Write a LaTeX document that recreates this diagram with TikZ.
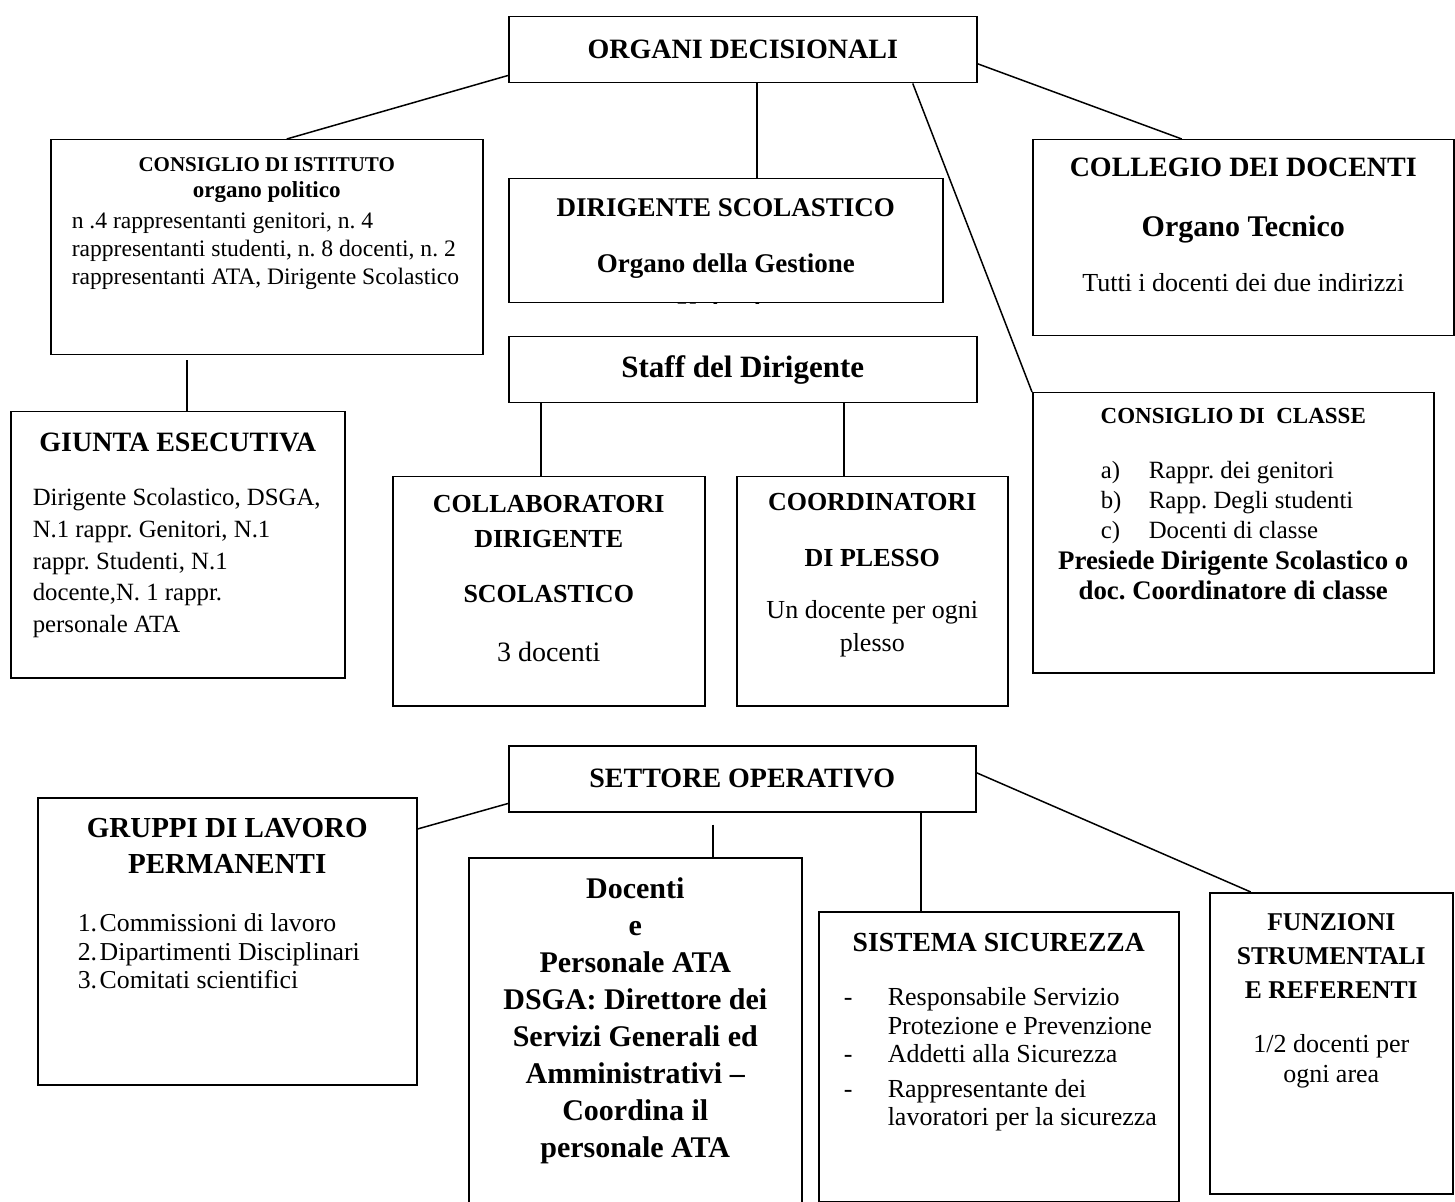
\documentclass[tikz,border=0pt]{standalone}
\usepackage{fontspec}
\setmainfont{Liberation Serif}
\usetikzlibrary{positioning}

\begin{document}
\frenchspacing
\begin{tikzpicture}[x=0.5pt,y=-0.5pt,line width=0.75pt]
        \tikzstyle{box}=[draw,anchor=north west,inner sep=0pt]
        \tikzstyle{title}=[align=center,inner sep=0pt,font=\bfseries\fontsize{14}{17}\selectfont]
        \tikzstyle{list}=[align=left,inner sep=0pt,font=\fontsize{12.5}{14.25}\selectfont]

        \useasboundingbox (0,0) rectangle (1455,1202);

        \draw (508,16) node[box,title,minimum width=234pt,minimum height=33pt] (od) {ORGANI DECISIONALI};

        \draw (50,139) node[box,minimum width=216pt,minimum height=107.5pt] (ci) {};
        \node[title,font=\bfseries\fontsize{10.5}{13}\selectfont,below=9pt of ci.north] (ci-t) {CONSIGLIO DI ISTITUTO\\ {\fontsize{11.5}{13}\selectfont organo politico}};
        \node[list,font=\fontsize{11.8}{14}\selectfont,below right=36.5pt and 10.5pt of ci.north west] (ci-b) {n .4 rappresentanti genitori, n. 4\\ rappresentanti studenti, n. 8 docenti, n. 2\\ rappresentanti ATA, Dirigente Scolastico};

        \draw (508,178) node[box,minimum width=217pt,minimum height=62pt] (ds) {};
        \begin{scope}
            \clip (ds.north west) rectangle (ds.south east);
            \node[title,font=\bfseries\fontsize{13.5}{16}\selectfont,below=10pt of ds.north] (ds-t) {DIRIGENTE SCOLASTICO\\[12pt] Organo della Gestione\\[8.5pt] Unitaria};
        \end{scope}

        \draw (1032,139) node[box,minimum width=210.5pt,minimum height=98pt] (cd) {};
        \node[title,below=9pt of cd.north] (cd-t) {COLLEGIO DEI DOCENTI\\[13pt] {\fontsize{15}{17}\selectfont Organo Tecnico}\\[10.5pt] {\mdseries\fontsize{13}{15}\selectfont Tutti i docenti dei due indirizzi}};

        \draw (508,336) node[box,title,font=\bfseries\fontsize{15.5}{17}\selectfont,minimum width=234pt,minimum height=33pt] (staff) {Staff del Dirigente};

        \draw (10,411) node[box,minimum width=167pt,minimum height=133pt] (ge) {};
        \node[title,below=10.5pt of ge.north] (ge-t) {GIUNTA ESECUTIVA};
        \node[list,font=\fontsize{12.4}{15.8}\selectfont,below right=38.5pt and 11pt of ge.north west] (ge-b) {Dirigente Scolastico, DSGA,\\ N.1 rappr. Genitori, N.1\\ rappr. Studenti, N.1\\ docente,N. 1 rappr.\\ personale ATA};

        \draw (1032,392) node[box,minimum width=200.5pt,minimum height=140pt] (ccl) {};
        \node[title,font=\bfseries\fontsize{11.5}{14}\selectfont,below=8pt of ccl.north] (ccl-t) {CONSIGLIO DI\ \ CLASSE};
        \node[list,font=\fontsize{12.4}{15}\selectfont,below right=34.5pt and 34pt of ccl.north west] (ccl-l) {\makebox[24pt][l]{a)}Rappr. dei genitori\\ \makebox[24pt][l]{b)}Rapp. Degli studenti\\ \makebox[24pt][l]{c)}Docenti di classe};
        \node[title,font=\bfseries\fontsize{13.4}{15}\selectfont,below=79pt of ccl.north] (ccl-b) {Presiede Dirigente Scolastico o\\ doc. Coordinatore di classe};

        \draw (392,476) node[box,minimum width=156pt,minimum height=114.5pt] (coll) {};
        \node[title,font=\bfseries\fontsize{13}{17.5}\selectfont,below=9.5pt of coll.north] (coll-t) {COLLABORATORI\\ DIRIGENTE\\[10pt] SCOLASTICO\\[12pt] {\mdseries\fontsize{14}{16}\selectfont 3 docenti}};

        \draw (736,476) node[box,minimum width=135.5pt,minimum height=114.5pt] (coord) {};
        \node[title,font=\bfseries\fontsize{13}{17}\selectfont,below=8.5pt of coord.north] (coord-t) {COORDINATORI\\[11pt] DI PLESSO\\[9pt] {\mdseries\fontsize{13}{15}\selectfont Un docente per ogni}\\[-0.5pt] {\mdseries\fontsize{13}{15}\selectfont plesso}};

        \draw (508,745) node[box,title,minimum width=233.5pt,minimum height=33pt] (so) {SETTORE OPERATIVO};

        \draw (37,797) node[box,minimum width=189.5pt,minimum height=143.5pt] (gl) {};
        \node[title,font=\bfseries\fontsize{14.5}{18}\selectfont,below=10.5pt of gl.north] (gl-t) {GRUPPI DI LAVORO\\ PERMANENTI};
        \node[list,font=\fontsize{12.9}{14.25}\selectfont,below right=58pt and 20pt of gl.north west] (gl-l) {\makebox[11pt][l]{1.}Commissioni di lavoro\\ \makebox[11pt][l]{2.}Dipartimenti Disciplinari\\ \makebox[11pt][l]{3.}Comitati scientifici};

        \draw (468,857) node[box,minimum width=166.5pt,minimum height=179pt] (dp) {};
        \node[title,font=\bfseries\fontsize{15}{18.5}\selectfont,below=10pt of dp.north] (dp-t) {Docenti\\ e\\ Personale ATA\\ DSGA: Direttore dei\\ Servizi Generali ed\\ Amministrativi –\\ Coordina il\\ personale ATA};

        \draw (818,911) node[box,minimum width=180pt,minimum height=145pt] (ss) {};
        \node[title,font=\bfseries\fontsize{13.8}{17}\selectfont,below=10.5pt of ss.north] (ss-t) {SISTEMA SICUREZZA};
        \node[list,font=\fontsize{13}{14.25}\selectfont,below right=38pt and 12.5pt of ss.north west] (ss-l) {\makebox[22pt][l]{-}Responsabile Servizio\\ \hspace*{22pt}Protezione e Prevenzione\\ \makebox[22pt][l]{-}Addetti alla Sicurezza\\[3pt] \makebox[22pt][l]{-}Rappresentante dei\\ \hspace*{22pt}lavoratori per la sicurezza};

        \draw (1209,892) node[box,minimum width=121.5pt,minimum height=150.5pt] (fs) {};
        \node[title,font=\bfseries\fontsize{12.8}{17}\selectfont,below=10.5pt of fs.north] (fs-t) {FUNZIONI\\ STRUMENTALI\\ E REFERENTI\\[10pt] {\mdseries\fontsize{13}{15}\selectfont 1/2 docenti per}\\[-2pt] {\mdseries\fontsize{13}{15}\selectfont ogni area}};

        \draw ([yshift=4pt]od.south west) -- ([xshift=10pt]ci.north);
        \draw ([xshift=7pt]od.south) -- ([xshift=15.5pt]ds.north);
        \draw ([yshift=-7pt]od.east) -- ([xshift=-30.75pt]cd.north);
        \draw ([xshift=85pt]od.south) -- (ccl.north west);
        \draw ([xshift=-40pt,yshift=-2.5pt]ci.south) -- ([xshift=4.5pt]ge.north);
        \draw ([xshift=-101pt]staff.south) -- ([xshift=-4pt]coll.north);
        \draw ([xshift=50.5pt]staff.south) -- ([xshift=-14.25pt]coord.north);
        \draw ([yshift=4.5pt]so.south west) -- ([yshift=-16pt]gl.north east);
        \draw ([xshift=-14.75pt,yshift=-6pt]so.south) -- ([xshift=38.75pt]dp.north);
        \draw ([xshift=89.25pt]so.south) -- ([xshift=-39pt]ss.north);
        \draw ([yshift=3pt]so.east) -- ([xshift=-40.25pt]fs.north);

    \end{tikzpicture}
\end{document}
